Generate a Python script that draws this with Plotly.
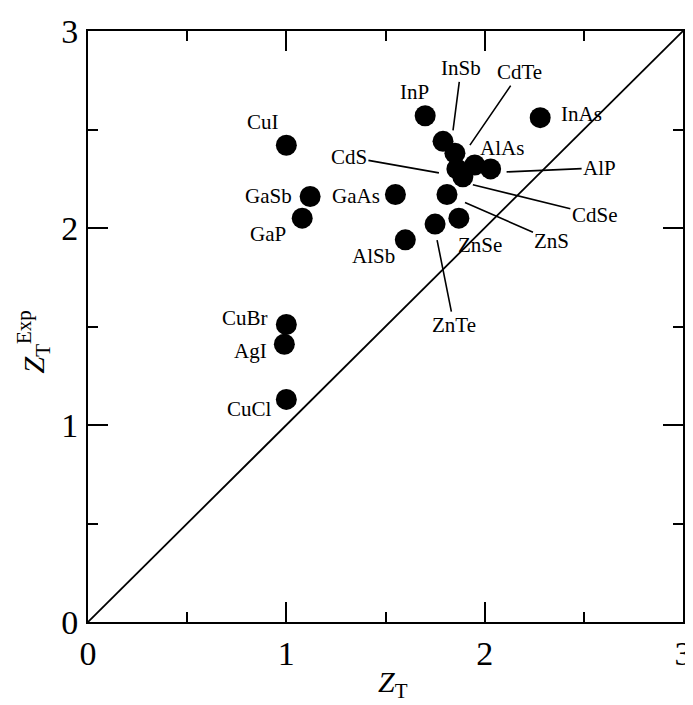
import plotly.graph_objects as go

# ---- data ----
compounds = ["CuI", "GaSb", "GaP", "CuBr", "AgI", "CuCl", "GaAs", "AlSb",
             "InP", "InAs", "InSb", "CdTe", "AlAs", "AlP", "CdS", "CdSe",
             "ZnS", "ZnSe", "ZnTe"]
z_t = [1.00, 1.12, 1.08, 1.00, 0.99, 1.00, 1.55, 1.60,
       1.70, 2.28, 1.79, 1.85, 1.95, 2.03, 1.86, 1.89,
       1.81, 1.87, 1.75]
z_exp = [2.42, 2.16, 2.05, 1.51, 1.41, 1.13, 2.17, 1.94,
         2.57, 2.56, 2.44, 2.38, 2.32, 2.30, 2.30, 2.26,
         2.17, 2.05, 2.02]
diag = [0, 3]
ticks_major = [0, 1, 2, 3]

# ---- label placement (pixels) ----
# plain labels: (xshift, yshift)
plain = {
    "InP": (-11, 24), "InAs": (41, 4), "AlAs": (27, 17), "ZnSe": (21, -27),
    "GaAs": (-39, -1), "AlSb": (-32, -16), "CuI": (-23, 23), "GaSb": (-42, 0),
    "GaP": (-34, -16), "CuBr": (-41, 7), "AgI": (-34, -7), "CuCl": (-37, -10),
}
# leader labels: (xshift, yshift, ax, ay)
leader = {
    "InSb": (10, 11, 8, -62),
    "CdTe": (15, 8, 50, -73),
    "AlP": (16, -3, 93, -4),
    "CdS": (-18, -4, -90, -16),
    "CdSe": (10, -8, 122, 30),
    "ZnS": (18, -8, 87, 38),
    "ZnTe": (2, -16, 17, 85),
}

FONT = "Liberation Serif"
fig = go.Figure()
fig.add_trace(go.Scatter(x=diag, y=diag, mode="lines",
                         line=dict(color="black", width=1.8),
                         hoverinfo="skip", showlegend=False))
fig.add_trace(go.Scatter(x=z_t, y=z_exp, mode="markers", text=compounds,
                         marker=dict(color="black", size=21, line=dict(width=0)),
                         showlegend=False))

annotations = []
for name, x, y in zip(compounds, z_t, z_exp):
    if name in plain:
        xs, ys = plain[name]
        annotations.append(dict(x=x, y=y, text=name, showarrow=False,
                                xshift=xs, yshift=ys,
                                font=dict(family=FONT, size=21, color="black")))
    else:
        xs, ys, ax, ay = leader[name]
        annotations.append(dict(x=x, y=y, text=name, showarrow=True,
                                arrowhead=0, arrowwidth=1.6, arrowcolor="black",
                                ax=ax, ay=ay, xshift=xs, yshift=ys, standoff=0,
                                font=dict(family=FONT, size=21, color="black")))

# axis titles
annotations.append(dict(xref="paper", yref="paper", x=0.5, y=0, xshift=7, yshift=-62,
                        text="<i>Z</i><sub>T</sub>", showarrow=False,
                        xanchor="center", yanchor="middle",
                        font=dict(family=FONT, size=30, color="black")))
annotations.append(dict(xref="paper", yref="paper", x=0, y=0.5, xshift=-54, yshift=-16,
                        text="<i>Z</i><sub>T</sub><sup>Exp</sup>", showarrow=False,
                        textangle=-90, xanchor="center", yanchor="middle",
                        font=dict(family=FONT, size=30, color="black")))

axis_common = dict(
    range=[0, 3], tickvals=ticks_major, ticktext=[str(t) for t in ticks_major],
    ticks="inside", ticklen=20, tickwidth=1.8, tickcolor="black",
    minor=dict(dtick=0.5, ticks="inside", ticklen=10, tickwidth=1.8, tickcolor="black", showgrid=False),
    showline=True, linecolor="black", linewidth=2, mirror="ticks",
    showgrid=False, zeroline=False, automargin=False,
    tickfont=dict(family=FONT, size=34, color="black"),
)

fig.update_layout(
    width=685, height=697,
    margin=dict(l=80, r=10, t=23, b=83),
    paper_bgcolor="white", plot_bgcolor="white",
    xaxis=dict(**axis_common, ticklabelstandoff=0),
    yaxis=dict(**axis_common, ticklabelstandoff=1),
    annotations=annotations,
    showlegend=False,
)

fig.write_html("out.html")
